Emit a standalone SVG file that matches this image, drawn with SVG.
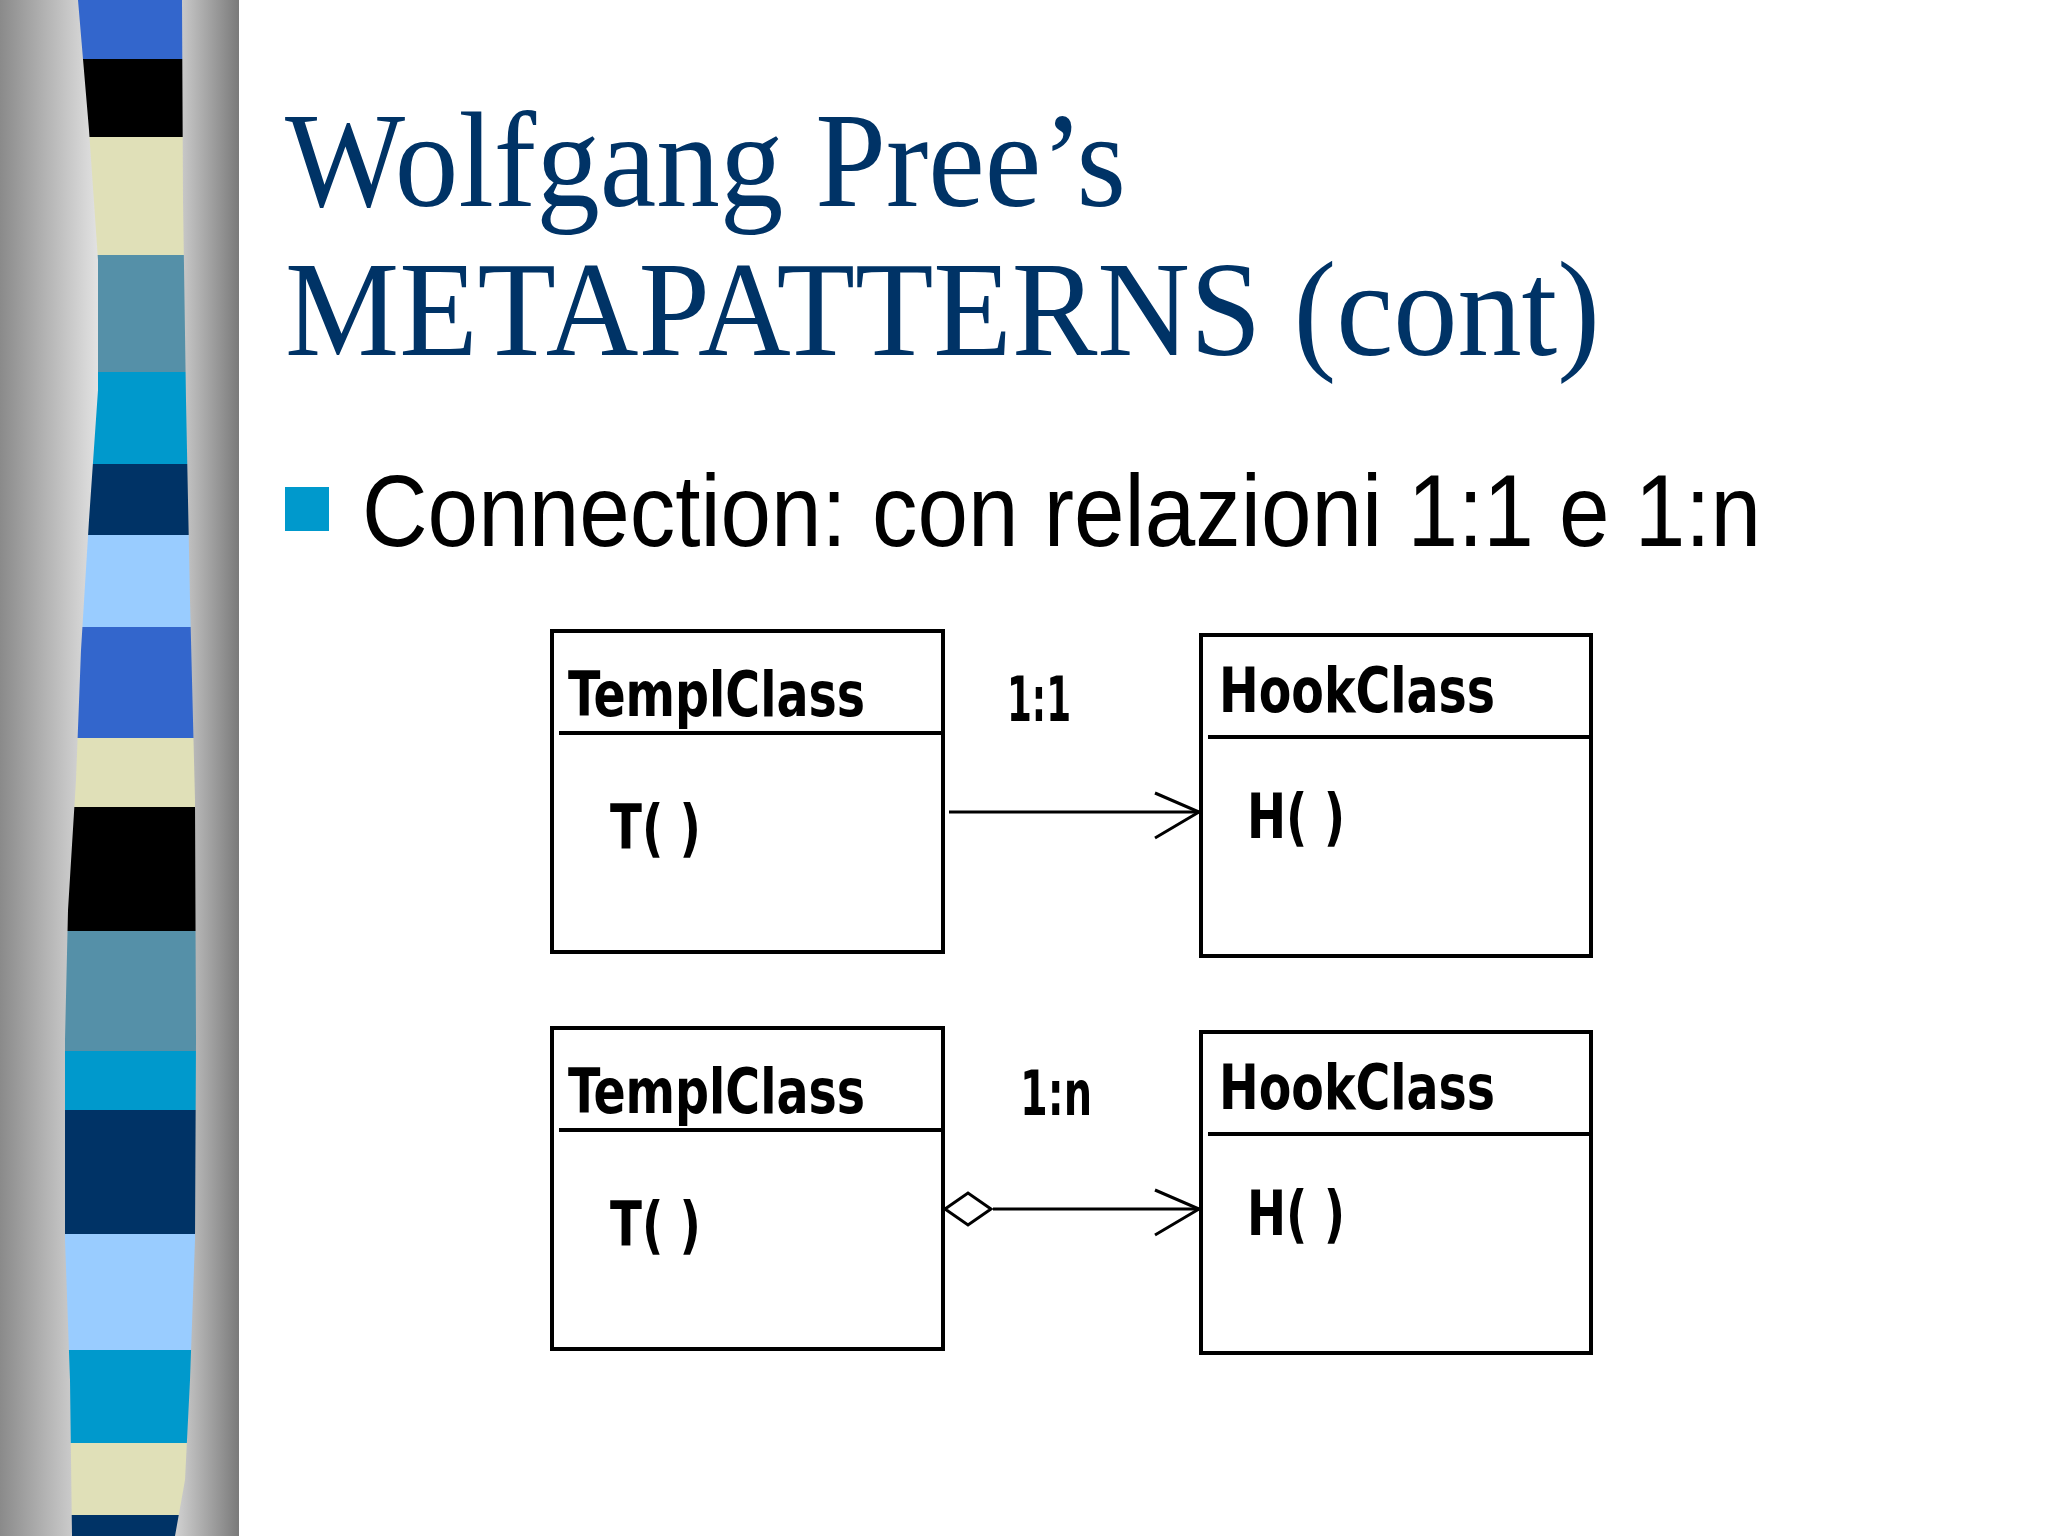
<svg xmlns="http://www.w3.org/2000/svg" width="2048" height="1536" viewBox="0 0 2048 1536">
<defs>
<linearGradient id="gl" x1="0" x2="1" y1="0" y2="0"><stop offset="0" stop-color="#8a8a8a"/><stop offset="1" stop-color="#ffffff"/></linearGradient>
<linearGradient id="gr" x1="0" x2="1" y1="0" y2="0"><stop offset="0" stop-color="#f4f4f4"/><stop offset="1" stop-color="#7a7a7a"/></linearGradient>
<clipPath id="strip"><path d="M78,0 L89,130 L98,260 L98,390 L89,520 L81,650 L76,780 L68,910 L65,1040 L65,1240 L70,1380 L72,1536 L175,1536 L185,1480 L190,1380 L195,1240 L196,1040 L195,800 L190,600 L186,400 L183,200 L182,0 Z"/></clipPath>
<style>
.box{fill:#fff;stroke:#000;stroke-width:4}
.div{stroke:#000;stroke-width:4}
.uml{font-family:"DejaVu Sans Condensed","DejaVu Sans",sans-serif;font-weight:bold;font-size:62px;fill:#000}
.ln{stroke:#000;stroke-width:3;fill:none}
.title{font-family:"Liberation Serif",serif;font-size:136px;fill:#003366}
</style>
</defs>
<rect width="2048" height="1536" fill="#fff"/>
<rect x="0" y="0" width="130" height="1536" fill="url(#gl)"/>
<rect x="150" y="0" width="89" height="1536" fill="url(#gr)"/>
<g clip-path="url(#strip)">
<rect x="0" y="0" width="240" height="59" fill="#3366cc"/>
<rect x="0" y="59" width="240" height="78" fill="#000"/>
<rect x="0" y="137" width="240" height="118" fill="#e0e0b8"/>
<rect x="0" y="255" width="240" height="117" fill="#5590a8"/>
<rect x="0" y="372" width="240" height="92" fill="#0099cc"/>
<rect x="0" y="464" width="240" height="71" fill="#003366"/>
<rect x="0" y="535" width="240" height="92" fill="#99ccff"/>
<rect x="0" y="627" width="240" height="111" fill="#3366cc"/>
<rect x="0" y="738" width="240" height="69" fill="#e0e0b8"/>
<rect x="0" y="807" width="240" height="124" fill="#000"/>
<rect x="0" y="931" width="240" height="120" fill="#5590a8"/>
<rect x="0" y="1051" width="240" height="59" fill="#0099cc"/>
<rect x="0" y="1110" width="240" height="124" fill="#003366"/>
<rect x="0" y="1234" width="240" height="116" fill="#99ccff"/>
<rect x="0" y="1350" width="240" height="93" fill="#0099cc"/>
<rect x="0" y="1443" width="240" height="72" fill="#e0e0b8"/>
<rect x="0" y="1515" width="240" height="21" fill="#003366"/>
</g>
<text class="title" x="285" y="206" textLength="841" lengthAdjust="spacingAndGlyphs">Wolfgang Pree’s</text>
<text class="title" x="285" y="355" textLength="1315" lengthAdjust="spacingAndGlyphs">METAPATTERNS (cont)</text>
<rect x="285" y="487" width="44" height="44" fill="#0099cc"/>
<text x="362" y="546" font-family="Liberation Sans, sans-serif" font-size="102" fill="#000" textLength="1399" lengthAdjust="spacingAndGlyphs">Connection: con relazioni 1:1 e 1:n</text>
<g id="templ1"><rect class="box" x="552" y="631" width="391" height="321"/><line class="div" x1="559" y1="733" x2="943" y2="733"/><text class="uml" x="568" y="716" textLength="297" lengthAdjust="spacingAndGlyphs">TemplClass</text><text class="uml" x="610" y="849" textLength="91" lengthAdjust="spacingAndGlyphs">T( )</text></g>
<g id="hook1"><rect class="box" x="1201" y="635" width="390" height="321"/><line class="div" x1="1208" y1="737" x2="1591" y2="737"/><text class="uml" x="1219" y="712" textLength="276" lengthAdjust="spacingAndGlyphs">HookClass</text><text class="uml" x="1247" y="838" textLength="98" lengthAdjust="spacingAndGlyphs">H( )</text></g>
<g id="templ2"><rect class="box" x="552" y="1028" width="391" height="321"/><line class="div" x1="559" y1="1130" x2="943" y2="1130"/><text class="uml" x="568" y="1113" textLength="297" lengthAdjust="spacingAndGlyphs">TemplClass</text><text class="uml" x="610" y="1246" textLength="91" lengthAdjust="spacingAndGlyphs">T( )</text></g>
<g id="hook2"><rect class="box" x="1201" y="1032" width="390" height="321"/><line class="div" x1="1208" y1="1134" x2="1591" y2="1134"/><text class="uml" x="1219" y="1109" textLength="276" lengthAdjust="spacingAndGlyphs">HookClass</text><text class="uml" x="1247" y="1235" textLength="98" lengthAdjust="spacingAndGlyphs">H( )</text></g>
<g id="connectors">
<line class="ln" x1="949" y1="812" x2="1199" y2="812"/>
<polyline class="ln" points="1155,793 1199,812 1155,838"/>
<text class="uml" x="1007" y="721" textLength="64" lengthAdjust="spacingAndGlyphs">1:1</text>
<line class="ln" x1="993" y1="1209" x2="1199" y2="1209"/>
<polyline class="ln" points="1155,1190 1199,1209 1155,1235"/>
<polygon class="ln" points="945,1209 968,1193 991,1209 968,1225"/>
<text class="uml" x="1020" y="1115" textLength="72" lengthAdjust="spacingAndGlyphs">1:n</text>
</g>
</svg>
